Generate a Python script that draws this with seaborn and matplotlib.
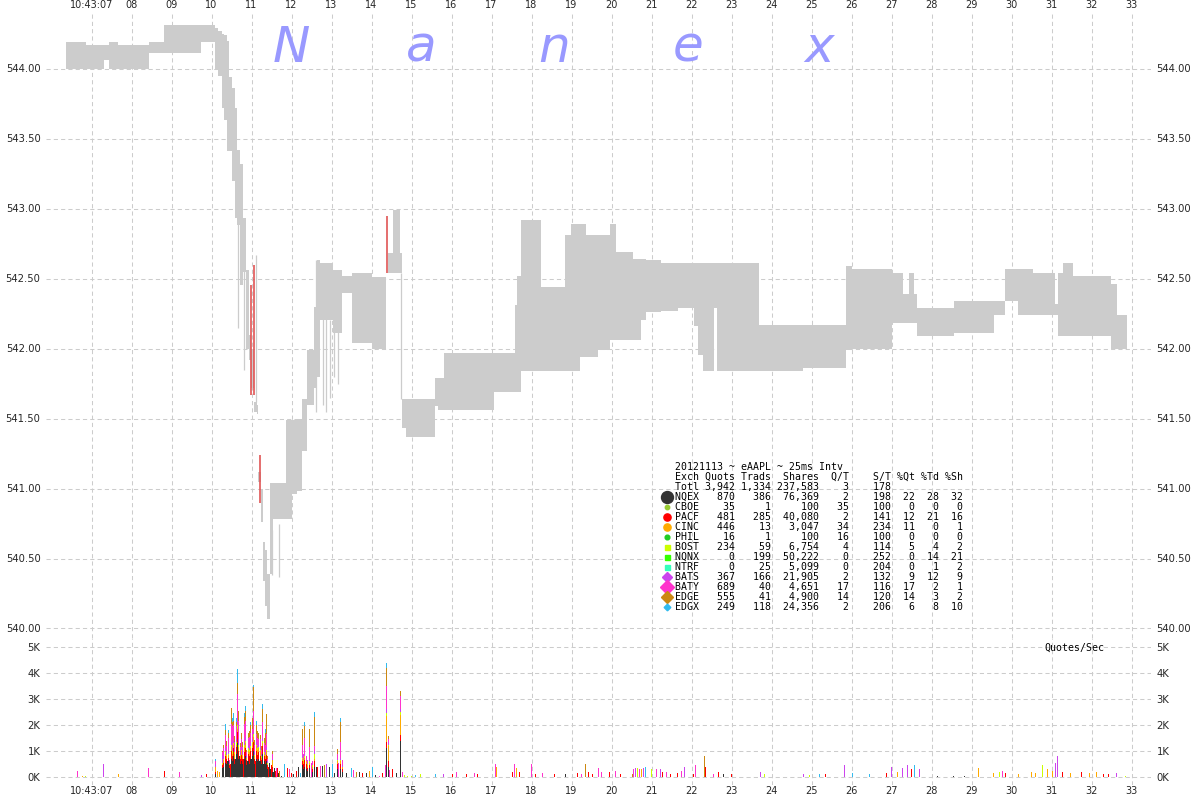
import numpy as np
import matplotlib
matplotlib.use("Agg")
import matplotlib.pyplot as plt
import seaborn as sns

# ---------------- price (NBBO spread) data: seconds after 10:43:00 ----------------
price_t = [6.35, 6.85, 7.30, 7.425, 7.65, 8.425, 8.80, 9.725, 10.075, 10.15,
           10.25, 10.31, 10.375, 10.425, 10.5, 10.575, 10.625, 10.7, 10.775, 10.85,
           10.925, 10.975, 11.05, 11.125, 11.16, 11.225, 11.275, 11.325, 11.375, 11.45,
           11.525, 11.85, 12.0, 12.125, 12.25, 12.375, 12.55, 12.625, 12.7, 13.025,
           13.25, 13.5, 14.0, 14.35, 14.4, 14.525, 14.7, 14.75, 14.85, 15.575,
           15.65, 15.8, 17.05, 17.575, 17.625, 17.725, 18.225, 18.825, 18.975, 19.2,
           19.35, 19.65, 19.95, 20.1, 20.525, 20.725, 20.85, 21.225, 21.65, 22.05,
           22.15, 22.275, 22.55, 22.625, 23.675, 24.775, 25.85, 26.0, 27.0, 27.275,
           27.425, 27.55, 27.625, 28.55, 29.55, 29.825, 30.15, 30.525, 31.075, 31.15,
           31.275, 31.525, 32.475, 32.625, 32.875]
bid = [544.00, 544.00, 544.06, 544.00, 544.00, 544.11, 544.11, 544.19, 543.99, 543.95,
       543.72, 543.63, 543.41, 543.41, 543.20, 542.93, 542.88, 542.45, 542.55, 542.00,
       541.92, 541.72, 541.55, 541.53, 541.05, 540.76, 540.34, 540.16, 540.07, 540.39,
       540.78, 540.78, 540.96, 540.98, 541.27, 541.60, 541.72, 541.80, 542.20, 542.11,
       542.40, 542.04, 542.00, 542.54, 542.54, 542.54, 542.54, 541.43, 541.37, 541.59,
       541.56, 541.56, 541.69, 541.69, 541.69, 541.84, 541.84, 541.84, 541.84, 541.94,
       541.94, 541.99, 542.06, 542.06, 542.06, 542.20, 542.26, 542.27, 542.29, 542.16,
       541.95, 541.84, 542.29, 541.84, 541.84, 541.86, 541.99, 542.00, 542.18, 542.18,
       542.18, 542.18, 542.09, 542.11, 542.24, 542.34, 542.24, 542.24, 542.24, 542.09,
       542.09, 542.09, 542.00, 542.00, 542.00]
ask = [544.19, 544.17, 544.17, 544.19, 544.17, 544.19, 544.31, 544.31, 544.29, 544.27,
       544.25, 544.24, 544.20, 543.94, 543.86, 543.72, 543.42, 543.32, 542.93, 542.56,
       542.10, 542.00, 541.62, 541.60, 541.12, 541.00, 540.62, 540.56, 540.39, 541.04,
       541.04, 541.49, 541.49, 541.50, 541.64, 541.99, 542.30, 542.63, 542.61, 542.56,
       542.52, 542.54, 542.51, 542.54, 542.68, 542.99, 542.68, 541.64, 541.64, 541.79,
       541.79, 541.97, 541.97, 542.31, 542.52, 542.92, 542.44, 542.81, 542.89, 542.89,
       542.81, 542.81, 542.89, 542.69, 542.64, 542.64, 542.63, 542.61, 542.61, 542.61,
       542.61, 542.61, 542.61, 542.61, 542.17, 542.17, 542.59, 542.57, 542.54, 542.39,
       542.54, 542.39, 542.29, 542.34, 542.34, 542.57, 542.57, 542.54, 542.32, 542.54,
       542.61, 542.52, 542.46, 542.24, 542.24]

# thin quote spikes (gray) and trade prints (red)
spike_t = [10.65, 10.8, 11.1, 11.5, 11.675, 12.6, 12.775, 12.85, 12.95, 13.05, 13.15, 14.725]
spike_lo = [542.15, 541.85, 541.62, 540.38, 540.37, 541.55, 541.6, 541.55, 541.65, 541.8, 541.75, 541.64]
spike_hi = [543.40, 542.60, 542.67, 540.70, 540.75, 542.63, 542.3, 542.28, 542.20, 542.15, 542.40, 542.54]
red_t = [10.975, 11.05, 11.2, 14.375]
red_lo = [541.67, 541.67, 540.90, 542.54]
red_hi = [542.45, 542.60, 541.24, 542.95]

# ---------------- quote rate (K quotes/sec), stacked bars ----------------
vol_t = [10.10, 10.275, 10.30, 10.35, 10.375, 10.425, 10.45, 10.5, 10.525, 10.55,
         10.575, 10.625, 10.65, 10.675, 10.725, 10.75, 10.775, 10.825, 10.85, 10.875,
         10.925, 10.95, 10.975, 11.025, 11.05, 11.075, 11.125, 11.15, 11.175, 11.225,
         11.25, 11.275, 11.325, 11.35, 11.375, 11.4, 11.525, 12.275, 12.3, 12.325,
         12.375, 12.4, 12.45, 12.525, 12.575, 13.15, 13.225, 13.275, 14.375, 14.425,
         14.725]
vol_nqex = [0.1, 0.35, 0.4, 0.55, 0.5, 0.6, 0.35, 0.7, 0.6, 0.8,
            0.5, 0.9, 1.3, 0.7, 0.5, 0.6, 0.5, 0.7, 0.8, 0.45,
            0.6, 0.5, 0.7, 0.8, 1.0, 0.5, 0.7, 0.6, 0.7, 0.6,
            0.5, 0.9, 0.6, 0.5, 0.6, 0.3, 0.2, 0.45, 0.3, 0.4,
            0.3, 0.25, 0.35, 0.2, 0.4, 0.3, 0.3, 0.2, 1.1, 0.4,
            1.4]
vol_pacf = [0.1, 0.1, 0.15, 0.25, 0.2, 0.15, 0.1, 0.3, 0.2, 0.3,
            0.2, 0.25, 0.45, 0.3, 0.2, 0.25, 0.2, 0.25, 0.3, 0.2,
            0.3, 0.3, 0.3, 0.3, 0.35, 0.2, 0.3, 0.25, 0.25, 0.2,
            0.15, 0.3, 0.2, 0.2, 0.25, 0.15, 0.2, 0.15, 0.2, 0.25,
            0.2, 0.1, 0.1, 0.1, 0.2, 0.2, 0.2, 0.1, 0.25, 0.2,
            0.2]
vol_cinc = [0.2, 0.05, 0.1, 0.1, 0.1, 0.1, 0.05, 0.15, 0.1, 0.15,
            0.2, 0.1, 0.1, 0.15, 0.1, 0.15, 0.1, 0.2, 0.2, 0.1,
            0.1, 0.15, 0.1, 0.2, 0.2, 0.1, 0.2, 0.2, 0.15, 0.2,
            0.1, 0.1, 0.1, 0.1, 0.15, 0.05, 0.25, 0.1, 0.1, 0.1,
            0.1, 0.1, 0.1, 0.1, 0.1, 0.1, 0.1, 0.1, 1.0, 0.6,
            0.8]
vol_bost = [0.0, 0.05, 0.05, 0.1, 0.05, 0.05, 0.0, 0.1, 0.1, 0.05,
            0.05, 0.1, 0.15, 0.1, 0.05, 0.05, 0.05, 0.1, 0.1, 0.0,
            0.1, 0.1, 0.1, 0.05, 0.1, 0.05, 0.05, 0.05, 0.05, 0.05,
            0.05, 0.1, 0.05, 0.05, 0.05, 0.05, 0.0, 0.05, 0.05, 0.05,
            0.0, 0.05, 0.05, 0.05, 0.2, 0.05, 0.05, 0.0, 0.1, 0.05,
            0.1]
vol_bats = [0.1, 0.3, 0.1, 0.1, 0.1, 0.1, 0.05, 0.1, 0.15, 0.1,
            0.1, 0.1, 0.1, 0.2, 0.1, 0.1, 0.1, 0.1, 0.15, 0.05,
            0.1, 0.1, 0.1, 0.1, 0.1, 0.1, 0.1, 0.1, 0.1, 0.1,
            0.05, 0.1, 0.05, 0.1, 0.1, 0.05, 0.05, 0.1, 0.05, 0.1,
            0.05, 0.05, 0.05, 0.05, 0.1, 0.05, 0.1, 0.05, 0.15, 0.1,
            0.1]
vol_baty = [0.1, 0.1, 0.3, 0.5, 0.25, 0.5, 0.12, 0.7, 0.8, 0.6,
            0.3, 0.5, 1.1, 0.7, 0.2, 0.3, 0.2, 0.7, 0.6, 0.15,
            0.3, 0.4, 0.4, 0.4, 0.8, 0.3, 0.3, 0.3, 0.2, 0.3,
            0.2, 0.6, 0.3, 0.3, 0.5, 0.1, 0.2, 0.4, 0.2, 0.6,
            0.15, 0.12, 0.5, 0.1, 0.2, 0.2, 0.6, 0.22, 0.9, 0.1,
            0.5]
vol_edge = [0.0, 0.05, 0.15, 0.2, 0.17, 0.2, 0.0, 0.6, 0.17, 0.16,
            0.21, 0.17, 0.4, 0.38, 0.16, 0.24, 0.18, 0.26, 0.39, 0.1,
            0.19, 0.21, 0.3, 0.42, 0.9, 0.19, 0.34, 0.26, 0.24, 0.18,
            0.13, 0.52, 0.2, 0.46, 0.79, 0.1, 0.09, 0.6, 0.0, 0.45,
            0.0, 0.0, 0.7, 0.0, 1.09, 0.18, 0.77, 0.0, 0.7, 0.11,
            0.22]
vol_edgx = [0.1, 0.0, 0.0, 0.25, 0.0, 0.12, 0.0, 0.0, 0.15, 0.3,
            0.0, 0.15, 0.57, 0.0, 0.0, 0.0, 0.0, 0.15, 0.2, 0.0,
            0.0, 0.0, 0.1, 0.0, 0.1, 0.0, 0.15, 0.0, 0.0, 0.0,
            0.0, 0.2, 0.0, 0.15, 0.0, 0.0, 0.0, 0.0, 0.0, 0.15,
            0.0, 0.0, 0.0, 0.0, 0.2, 0.0, 0.15, 0.0, 0.18, 0.0,
            0.0]

# single-exchange small bars
sm_t = [6.65, 6.775, 6.85, 7.3, 7.675, 8.425, 8.825, 9.2, 9.75, 9.875,
        10.15, 10.2, 11.45, 11.5, 11.575, 11.625, 11.65, 11.7, 11.75, 11.825,
        11.9, 11.95, 12.0, 12.05, 12.125, 12.175, 12.225, 12.5, 12.625, 12.65,
        12.725, 12.775, 12.825, 12.875, 12.95, 13.025, 13.075, 13.175, 13.375, 13.5,
        13.55, 13.625, 13.7, 13.775, 13.875, 13.95, 14.025, 14.1, 14.2, 14.275,
        14.35, 14.45, 14.525, 14.625, 14.775, 14.825, 14.9, 15.0, 15.1,
        10.4, 10.475, 10.6, 10.7, 10.8, 10.9, 11.0, 11.1, 11.2, 11.3, 11.425, 11.475, 11.55, 11.6, 11.675,
        15.225, 15.6, 15.8, 16.025, 16.125, 16.375, 16.575, 16.65, 17.1, 17.125,
        17.525, 17.575, 17.625, 17.7, 18.0, 18.1, 18.275, 18.575, 18.85, 19.15,
        19.25, 19.35, 19.425, 19.525, 19.675, 19.75, 19.95, 20.1, 20.225, 20.525,
        20.55, 20.6, 20.65, 20.7, 20.75, 20.8, 20.85, 21.0, 21.125, 21.225,
        21.275, 21.375, 21.475, 21.65, 21.75, 21.825, 22.05, 22.1, 22.325, 22.35,
        22.55, 22.675, 22.8, 23.0, 23.725, 23.825, 24.8, 24.95, 25.2, 25.35,
        25.825, 26.025, 26.45, 26.875, 27.0, 27.15, 27.275, 27.4, 27.5, 27.575,
        27.7, 28.15, 28.55, 28.825, 29.175, 29.55, 29.7, 29.775, 29.85, 30.175,
        30.5, 30.6, 30.775, 30.9, 31.025, 31.1, 31.15, 31.275, 31.475, 31.75,
        31.95, 32.125, 32.3, 32.425, 32.625, 32.85]
sm_h = [0.25, 0.05, 0.05, 0.5, 0.1, 0.35, 0.25, 0.2, 0.08, 0.1,
        0.22, 0.2, 0.54, 0.47, 0.35, 0.35, 0.35, 0.22, 0.05, 0.5,
        0.35, 0.3, 0.15, 0.1, 0.22, 0.4, 0.15, 0.54, 0.4, 0.4,
        0.44, 0.44, 0.46, 0.5, 0.4, 0.5, 0.15, 0.54, 0.15, 0.35,
        0.28, 0.18, 0.18, 0.15, 0.15, 0.22, 0.4, 0.09, 0.05, 0.15,
        0.47, 0.28, 0.3, 0.15, 0.18, 0.09, 0.05, 0.05, 0.09,
        0.6, 0.5, 0.7, 0.8, 0.7, 0.6, 0.7, 0.6, 0.6, 0.5, 0.4, 0.3, 0.2, 0.25, 0.15,
        0.1, 0.1, 0.1, 0.12, 0.2, 0.1, 0.15, 0.1, 0.5, 0.4,
        0.2, 0.5, 0.35, 0.2, 0.5, 0.1, 0.15, 0.1, 0.12, 0.15,
        0.1, 0.5, 0.2, 0.1, 0.35, 0.2, 0.2, 0.25, 0.1, 0.1,
        0.3, 0.35, 0.35, 0.3, 0.3, 0.35, 0.4, 0.3, 0.3, 0.3,
        0.2, 0.2, 0.1, 0.15, 0.25, 0.4, 0.1, 0.45, 0.8, 0.4,
        0.1, 0.2, 0.1, 0.1, 0.2, 0.1, 0.1, 0.08, 0.1, 0.1,
        0.45, 0.15, 0.1, 0.15, 0.4, 0.2, 0.35, 0.45, 0.3, 0.45,
        0.3, 0.05, 0.05, 0.05, 0.35, 0.15, 0.2, 0.25, 0.15, 0.1,
        0.2, 0.15, 0.45, 0.3, 0.25, 0.55, 0.8, 0.2, 0.15, 0.2,
        0.15, 0.2, 0.1, 0.1, 0.15, 0.05]
sm_ex = ["BATY", "CINC", "BOST", "BATS", "CINC", "BATY", "PACF", "BATY", "BATS", "PACF",
         "CINC", "CINC", "NQEX", "PACF", "NQEX", "BATY", "PACF", "EDGE", "NQEX", "EDGX",
         "PACF", "BATY", "PACF", "NQEX", "PACF", "NQEX", "EDGX", "BATY", "NQEX", "PACF",
         "BATY", "NQEX", "EDGE", "BATS", "NQEX", "EDGX", "NQEX", "BATY", "NQEX", "EDGX",
         "BATY", "EDGE", "NQEX", "PACF", "NQEX", "CINC", "EDGX", "NQEX", "BATY", "PACF",
         "BATY", "BATY", "PACF", "NQEX", "BATY", "BOST", "BOST", "BOST", "EDGX",
         "NQEX", "PACF", "NQEX", "NQEX", "PACF", "NQEX", "NQEX", "PACF", "NQEX", "NQEX", "PACF", "NQEX", "NQEX", "PACF", "NQEX",
         "BOST", "EDGX", "BATS", "PACF", "BATY", "PACF", "BATY", "PACF", "BATY", "CINC",
         "PACF", "BATY", "CINC", "PACF", "BATY", "PACF", "BATY", "PACF", "NQEX", "PACF",
         "BATY", "EDGE", "PACF", "PACF", "BATY", "BATY", "PACF", "BATY", "PACF", "EDGE",
         "BATY", "BATS", "BOST", "BATY", "CINC", "BATS", "EDGX", "BOST", "BATY", "BATS",
         "PACF", "BATY", "PACF", "PACF", "BATY", "BATS", "PACF", "BATY", "EDGE", "PACF",
         "BATY", "PACF", "NQEX", "PACF", "BATS", "BOST", "BATS", "BOST", "EDGX", "PACF",
         "BATS", "EDGX", "EDGX", "PACF", "BATS", "CINC", "BATS", "BATS", "PACF", "EDGX",
         "BATS", "NQEX", "NQEX", "NQEX", "CINC", "CINC", "BOST", "BATY", "PACF", "CINC",
         "CINC", "CINC", "BOST", "CINC", "CINC", "BATS", "BATS", "PACF", "CINC", "PACF",
         "CINC", "CINC", "PACF", "PACF", "BATS", "BOST"]

# ---------------- summary table ----------------
exch = ["NQEX", "CBOE", "PACF", "CINC", "PHIL", "BOST", "NQNX", "NTRF", "BATS", "BATY", "EDGE", "EDGX"]
quots = [870, 35, 481, 446, 16, 234, 0, 0, 367, 689, 555, 249]
trads = [386, 1, 285, 13, 1, 59, 199, 25, 166, 40, 41, 118]
shares = [76369, 100, 40080, 3047, 100, 6754, 50222, 5099, 21905, 4651, 4900, 24356]
q_per_t = [2, 35, 2, 34, 16, 4, 0, 0, 2, 17, 14, 2]
s_per_t = [198, 100, 141, 234, 100, 114, 252, 204, 132, 116, 120, 206]
pct_qt = [22, 0, 12, 11, 0, 5, 0, 0, 9, 17, 14, 6]
pct_td = [28, 0, 21, 0, 0, 4, 14, 1, 12, 2, 3, 8]
pct_sh = [32, 0, 16, 1, 0, 2, 21, 2, 9, 1, 2, 10]
total_row = ["Totl", "3,942", "1,334", "237,583", "3", "178"]
table_title = "20121113 ~ eAAPL ~ 25ms Intv"

x_secs = list(range(7, 34))
x_labels = ["10:43:07"] + [f"{s:02d}" for s in range(8, 34)]
price_ticks = [540.0, 540.5, 541.0, 541.5, 542.0, 542.5, 543.0, 543.5, 544.0]
vol_ticks = [0, 1, 2, 3, 4, 5]

ex_colors = {"NQEX": "#333333", "CBOE": "#99cc33", "PACF": "#ff0000", "CINC": "#ffaa00",
             "PHIL": "#22cc22", "BOST": "#ccff00", "NQNX": "#33ff00", "NTRF": "#33ffbb",
             "BATS": "#cc44ee", "BATY": "#ff33cc", "EDGE": "#cc8811", "EDGX": "#33bbee"}
ex_marker = {"NQEX": ("o", 8.6), "CBOE": ("o", 3.2), "PACF": ("o", 5.2), "CINC": ("o", 5.2),
             "PHIL": ("o", 3.4), "BOST": ("s", 3.6), "NQNX": ("s", 3.6), "NTRF": ("s", 3.6),
             "BATS": ("D", 5.2), "BATY": ("D", 7.2), "EDGE": ("D", 6.2), "EDGX": ("D", 3.4)}

# ---------------- figure ----------------
sns.set_style("white")
plt.rcParams["font.family"] = ["DejaVu Sans"]

W, H = 1200, 800
fig = plt.figure(figsize=(12, 8), dpi=100)


def rect(x0, y0, x1, y1):
    return [x0 / W, 1 - y1 / H, (x1 - x0) / W, (y1 - y0) / H]


ax = fig.add_axes(rect(46, 12, 1151, 638))
axv = fig.add_axes(rect(46, 638, 1151, 785))

xlim = (7 + (46 - 91.5) / 40, 7 + (1151 - 91.5) / 40)
grid_kw = dict(color="#cccccc", linestyle=(0, (4, 3)), linewidth=0.75)

for a in (ax, axv):
    a.set_xlim(*xlim)
    a.set_xticks(x_secs)
    a.set_axisbelow(True)
    a.grid(True, **grid_kw)
    a.set_facecolor("white")
    sns.despine(ax=a, left=True, bottom=True, top=True, right=True)

# price panel
ax.set_ylim(544 - (638 - 68.5) / 140, 544 + (68.5 - 12) / 140)
ax.fill_between(price_t, bid, ask, step="post", color="#cccccc", linewidth=0, zorder=2)
ax.vlines(spike_t, spike_lo, spike_hi, color="#cccccc", linewidth=0.9, zorder=2)
ax.vlines(red_t, red_lo, red_hi, color="#e05555", linewidth=1.2, zorder=3)
ax.set_yticks(price_ticks)
ax.set_yticklabels([f"{v:.2f}" for v in price_ticks])
ax.set_xticklabels(x_labels)
ax.tick_params(axis="x", length=0, labeltop=True, labelbottom=False, pad=1.5, labelsize=7)
ax.tick_params(axis="y", length=0, labelleft=True, labelright=True, pad=4, labelsize=7.2)

# quote-rate panel
axv.set_ylim(-(785 - 777) / 26, (777 - 638) / 26)
bottom = np.zeros(len(vol_t))
for name, vals in [("NQEX", vol_nqex), ("PACF", vol_pacf), ("CINC", vol_cinc), ("BOST", vol_bost),
                   ("BATS", vol_bats), ("BATY", vol_baty), ("EDGE", vol_edge), ("EDGX", vol_edgx)]:
    v = np.array(vals)
    axv.bar(vol_t, v, bottom=bottom, width=0.045, color=ex_colors[name], linewidth=0,
            antialiased=False, zorder=2)
    bottom += v
axv.bar(sm_t, sm_h, width=0.045, color=[ex_colors[e] for e in sm_ex], linewidth=0,
        antialiased=False, zorder=2)
axv.set_yticks(vol_ticks)
axv.set_yticklabels([f"{v}K" for v in vol_ticks])
axv.set_xticklabels(x_labels)
axv.tick_params(axis="x", length=0, labelbottom=True, labeltop=False, pad=1, labelsize=7)
axv.tick_params(axis="y", length=0, labelleft=True, labelright=True, pad=4, labelsize=7.2)

# overlay for watermark and summary table (pixel coordinates)
ov = fig.add_axes([0, 0, 1, 1], zorder=5)
ov.set_xlim(0, W)
ov.set_ylim(H, 0)
ov.axis("off")

for letter, xc in zip("Nanex", [291, 421, 554, 688, 819]):
    ov.text(xc, 62, letter, ha="center", va="baseline", fontsize=36, style="italic",
            color="#9999ff")

mono = dict(family="DejaVu Sans Mono", fontsize=7.1, va="center", ha="left", color="black")
tx, ty, dy = 675, 467, 10
ov.text(tx, ty, table_title, **mono)
header = "Exch" + "{:>6}{:>6}{:>8}{:>5}{:>7}{:>4}{:>4}{:>4}".format(
    "Quots", "Trads", "Shares", "Q/T", "S/T", "%Qt", "%Td", "%Sh")
ov.text(tx, ty + dy, header, **mono)
tot = "{:<4}{:>6}{:>6}{:>8}{:>5}{:>7}".format(*total_row)
ov.text(tx, ty + 2 * dy, tot, **mono)
for i, name in enumerate(exch):
    row = "{:<4}{:>6}{:>6}{:>8}{:>5}{:>7}{:>4}{:>4}{:>4}".format(
        name, f"{quots[i]:,}", f"{trads[i]:,}", f"{shares[i]:,}", q_per_t[i], s_per_t[i],
        pct_qt[i], pct_td[i], pct_sh[i])
    yy = ty + (3 + i) * dy
    ov.text(tx, yy, row, **mono)
    mk, ms = ex_marker[name]
    ov.plot([667], [yy], marker=mk, markersize=ms, color=ex_colors[name], linestyle="none")

ov.text(1104, 648, "Quotes/Sec", family="DejaVu Sans Mono", fontsize=7.1, va="center",
        ha="right", color="black")

fig.savefig("out.png", dpi=100, facecolor="white")
